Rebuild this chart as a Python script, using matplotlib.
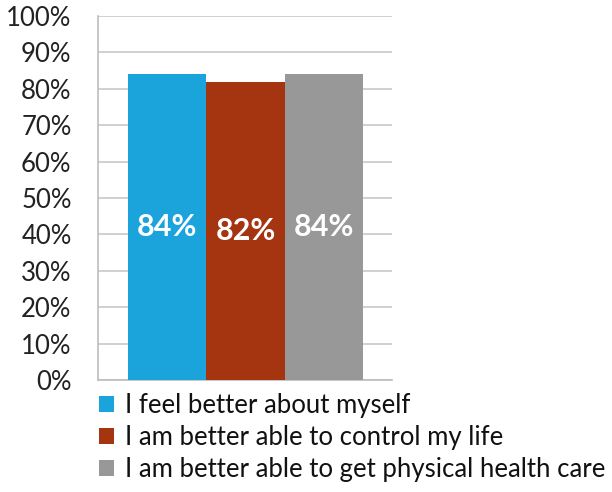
import matplotlib.pyplot as plt
import numpy as np
from matplotlib.patches import Patch

plt.rcParams['font.family'] = ['Lato', 'DejaVu Sans']

labels = ['I feel better about myself',
          'I am better able to control my life',
          'I am better able to get physical health care']
values = [84, 82, 84]
colors = ['#1BA3DB', '#A53411', '#989898']
yticks = np.arange(0, 101, 10)

fig = plt.figure(figsize=(6.12, 4.92), dpi=100)
ax = fig.add_axes([98 / 612, 1 - 380 / 492, 294 / 612, 364 / 492])

x = np.arange(len(values)) - 1
bars = ax.bar(x, values, width=1.0, color=colors, zorder=3)

for b, v in zip(bars, values):
    ax.text(b.get_x() + b.get_width() / 2, v / 2, f'{v}%', ha='center', va='center',
            color='white', fontsize=22, fontweight='bold', zorder=4)

ax.set_ylim(0, 100)
ax.set_xlim(-1.883, 1.87)
ax.set_yticks(yticks)
ax.set_yticklabels([f'{t}%' for t in yticks], fontsize=18.5, color='#222222')
ax.set_xticks([])
ax.tick_params(axis='y', length=0, pad=19)
ax.grid(axis='y', color='#c8c8c8', linewidth=1.2, zorder=0)
for s in ['top', 'right']:
    ax.spines[s].set_visible(False)
for s in ['left', 'bottom']:
    ax.spines[s].set_color('#bdbdbd')
    ax.spines[s].set_linewidth(1.2)

handles = [Patch(facecolor=c) for c in colors]
fig.legend(handles, labels, loc='upper left', bbox_to_anchor=(99 / 612, 1 - 393 / 492),
           frameon=False, fontsize=18.5, handlelength=0.6, handleheight=0.6,
           handletextpad=0.4, labelspacing=0.28, borderpad=0, borderaxespad=0,
           labelcolor='#111111')

fig.savefig('out.png', dpi=100)
